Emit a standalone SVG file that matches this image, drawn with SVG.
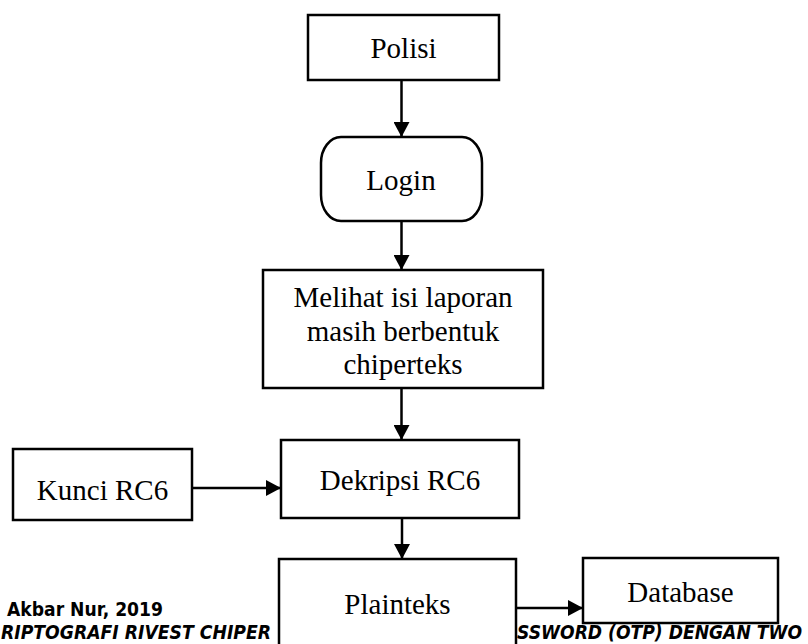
<svg xmlns="http://www.w3.org/2000/svg" width="808" height="644" viewBox="0 0 808 644">
<style>
.box{fill:#fff;stroke:#000;stroke-width:2.5}
.lbl{font-family:"Liberation Serif","Times New Roman",serif;font-size:29px;fill:#000;text-anchor:middle}
.con{stroke:#000;stroke-width:2.5;fill:none;marker-end:url(#ah)}
.foot{font-family:"DejaVu Sans","Liberation Sans",sans-serif;font-weight:bold;font-size:19.5px;fill:#000}
</style>
<defs>
<marker id="ah" markerUnits="userSpaceOnUse" markerWidth="16" markerHeight="16" refX="15" refY="8" orient="auto">
<path d="M0,0 L15,8 L0,16 z" fill="#000"/>
</marker>
</defs>
<g id="footer">
<text class="foot" x="7" y="616" textLength="156" lengthAdjust="spacingAndGlyphs">Akbar Nur, 2019</text>
<text class="foot" x="1" y="639" font-style="italic" textLength="270" lengthAdjust="spacingAndGlyphs">RIPTOGRAFI RIVEST CHIPER</text>
<text class="foot" x="517" y="639" font-style="italic" textLength="285" lengthAdjust="spacingAndGlyphs">SSWORD (OTP) DENGAN TWO</text>
</g>
<g id="connectors">
<line class="con" x1="401.5" y1="80" x2="401.5" y2="137"/>
<line class="con" x1="401.5" y1="221" x2="401.5" y2="270"/>
<line class="con" x1="401.5" y1="388" x2="401.5" y2="440"/>
<line class="con" x1="402" y1="518" x2="402" y2="559"/>
<line class="con" x1="192" y1="488" x2="281" y2="488"/>
<line class="con" x1="516" y1="608" x2="583" y2="608"/>
</g>
<g id="polisi">
<rect class="box" x="308" y="15" width="191" height="65"/>
<text class="lbl" x="403.5" y="58">Polisi</text>
</g>
<g id="login">
<rect class="box" x="321" y="137" width="161" height="84" rx="20" ry="26"/>
<text class="lbl" x="401" y="190">Login</text>
</g>
<g id="melihat">
<rect class="box" x="263" y="270" width="280" height="118"/>
<text class="lbl" x="403" y="307">Melihat isi laporan</text>
<text class="lbl" x="403" y="341">masih berbentuk</text>
<text class="lbl" x="403" y="374">chiperteks</text>
</g>
<g id="kunci">
<rect class="box" x="13" y="449" width="179" height="71"/>
<text class="lbl" x="102.5" y="500">Kunci RC6</text>
</g>
<g id="dekripsi">
<rect class="box" x="281" y="440" width="238" height="78"/>
<text class="lbl" x="400" y="490">Dekripsi RC6</text>
</g>
<g id="plainteks">
<rect class="box" x="279" y="559" width="237" height="110"/>
<text class="lbl" x="397.5" y="614">Plainteks</text>
</g>
<g id="database">
<rect class="box" x="583" y="558" width="195" height="65"/>
<text class="lbl" x="680.5" y="602">Database</text>
</g>
</svg>
